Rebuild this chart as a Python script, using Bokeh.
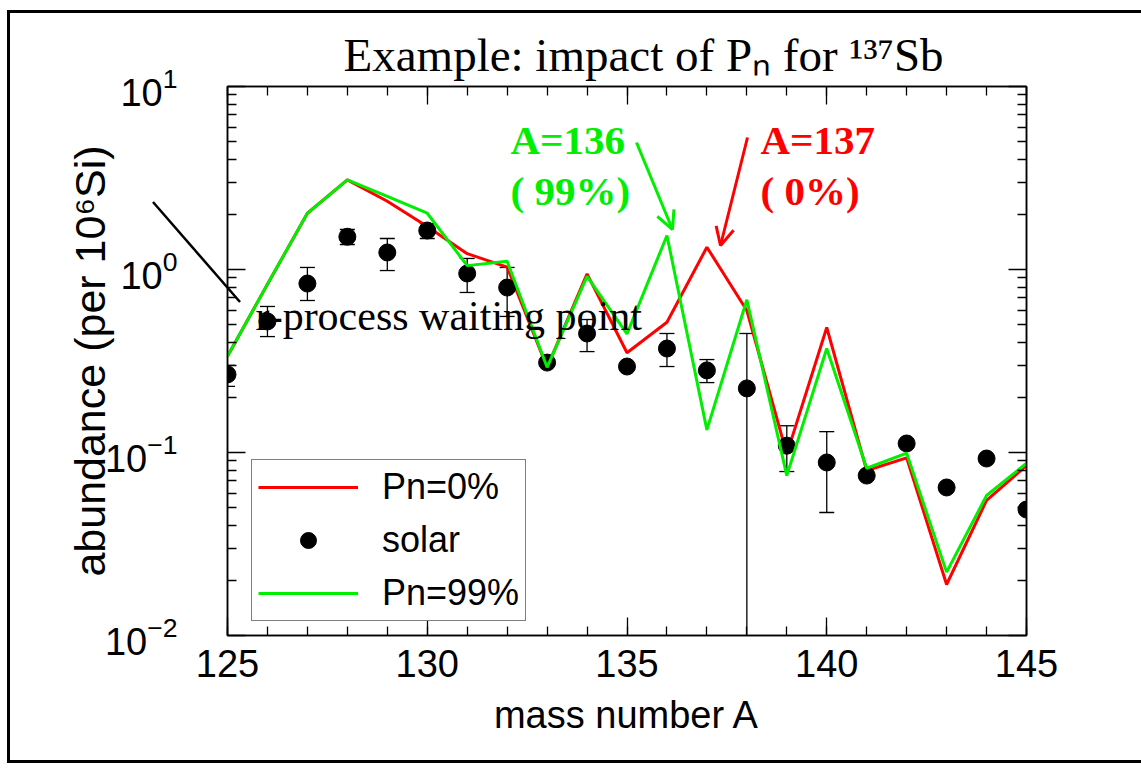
import urllib.parse
from bokeh.plotting import figure
from bokeh.models import (ColumnDataSource, Range1d, LinearAxis, LogAxis, SingleIntervalTicker,
                          FixedTicker, Legend, LegendItem, Label, Arrow, OpenHead, Title)
from bokeh.embed import file_html
from bokeh.resources import INLINE

# ---------------- data ----------------
mass = list(range(125, 146))
pn0 = [0.336, 0.83, 2.03, 3.09, 2.36, 1.72, 1.22, 1.03, 0.292, 0.947, 0.351,
       0.515, 1.324, 0.597, 0.098, 0.482, 0.0797, 0.0935, 0.0190, 0.0547, 0.0849]
pn99 = [0.336, 0.83, 2.03, 3.09, 2.51, 2.03, 1.05, 1.11, 0.292, 0.916, 0.445,
        1.535, 0.133, 0.683, 0.0748, 0.370, 0.082, 0.0991, 0.0222, 0.0582, 0.0874]
solar = [0.267, 0.520, 0.838, 1.51, 1.239, 1.633, 0.951, 0.797, 0.310, 0.447, 0.295,
         0.370, 0.281, 0.224, 0.109, 0.0882, 0.0748, 0.112, 0.0644, 0.0927, 0.0488]
solar_hi = [0.299, 0.628, 1.026, 1.654, 1.477, 1.783, 1.149, 1.026, None, 0.533, None,
            0.447, 0.322, 0.447, 0.140, 0.130, None, None, None, None, None]
solar_lo = [0.230, 0.430, 0.677, 1.37, 0.987, 1.477, 0.749, 0.554, None, 0.356, None,
            0.295, 0.241, 0.001, 0.0787, 0.047, None, None, None, None, None]
x_ticks = [125, 130, 135, 140, 145]
y_ticks = [0.01, 0.1, 1, 10]

RED = "#ff0000"
GREEN = "#00ee00"
SERIF = "Liberation Serif"
SANS = "Liberation Sans"

# frame placement (pixels)
FX0, FX1, FY0, FY1 = 227, 1026, 86, 635
W, H = 1141, 768

def ax(px):
    return 125 + (px - FX0) * 20.0 / (FX1 - FX0)

def ay(py):
    return 10 ** (1 - (py - FY0) * 3.0 / (FY1 - FY0))

# pointer line drawn as page decoration behind the canvas
deco = ('<svg xmlns="http://www.w3.org/2000/svg" width="300" height="400" viewBox="0 0 300 400">'
        '<line x1="153" y1="202" x2="240" y2="302" stroke="black" stroke-width="2.5"/>'
        '</svg>')
deco_url = "url(\"data:image/svg+xml," + urllib.parse.quote(deco) + "\")"
bar = "linear-gradient(#000, #000)"
background = ", ".join([
    "%s no-repeat 0px 0px / 300px 400px" % deco_url,
    "%s no-repeat 7px 10px / %dpx 3px" % (bar, W),      # slide frame top
    "%s no-repeat 7px 10px / 3px 753px" % bar,          # slide frame left
    "%s no-repeat 7px 760px / %dpx 3px" % (bar, W),     # slide frame bottom
    "white",
])

p = figure(width=W, height=H, x_range=Range1d(125, 145), y_range=Range1d(0.01, 10),
           y_axis_type="log", output_backend="svg", toolbar_location=None,
           min_border_left=FX0, min_border_right=W - FX1, min_border_top=FY0,
           min_border_bottom=H - FY1)
p.grid.visible = False
p.outline_line_color = "black"
p.outline_line_width = 1.5
p.background_fill_color = None
p.border_fill_color = None
p.styles = {"background": background}

p.title = Title(text="Example: impact of P\u2099 for \u00b9\u00b3\u2077Sb", align="left",
                offset=343 - FX0, text_font=SERIF, text_font_size="47px",
                text_font_style="normal", text_color="black", standoff=12)

minor_y = [m * 10 ** e for e in (-2, -1, 0) for m in range(2, 10)]

def style_axis(a, labels=True):
    a.axis_line_color = "black"
    a.axis_line_width = 1.5
    a.major_tick_line_color = "black"
    a.minor_tick_line_color = "black"
    a.major_tick_line_width = 1.3
    a.minor_tick_line_width = 1.3
    a.major_tick_in = 18
    a.major_tick_out = 0
    a.minor_tick_in = 9
    a.minor_tick_out = 0
    a.major_label_text_font = SANS
    a.major_label_text_font_size = "38px"
    a.major_label_text_color = "black"
    a.axis_label_text_font = SANS
    a.axis_label_text_font_size = "40px"
    a.axis_label_text_font_style = "normal"
    a.axis_label_text_color = "black"
    if not labels:
        a.major_label_text_font_size = "0px"
        a.major_label_text_alpha = 0
        a.major_label_standoff = 0

xa = p.xaxis[0]
xa.ticker = SingleIntervalTicker(interval=5, num_minor_ticks=5)
style_axis(xa)
xa.major_label_standoff = 14
xa.axis_label = "mass number A"
xa.axis_label_standoff = 14
xa.axis_label_text_font_size = "38px"

ya = p.yaxis[0]
ya.ticker = FixedTicker(ticks=y_ticks, minor_ticks=minor_y)
style_axis(ya)
ya.major_label_standoff = 50
ya.axis_label = "abundance (per 10\u2076Si)"
ya.axis_label_standoff = -12
ya.axis_label_text_font_size = "43px"

top = LinearAxis(ticker=SingleIntervalTicker(interval=5, num_minor_ticks=5))
style_axis(top, labels=False)
p.add_layout(top, "above")
right = LogAxis(ticker=FixedTicker(ticks=y_ticks, minor_ticks=minor_y))
style_axis(right, labels=False)
p.add_layout(right, "right")

# ---------------- marks ----------------
src = ColumnDataSource(dict(mass=mass, pn0=pn0, pn99=pn99, solar=solar))
ex = [m for m, h in zip(mass, solar_hi) if h is not None]
ehi = [h for h in solar_hi if h is not None]
elo = [l for l in solar_lo if l is not None]
esrc = ColumnDataSource(dict(x=ex, hi=ehi, lo=elo))

p.segment(x0="x", y0="lo", x1="x", y1="hi", source=esrc, line_color="black", line_width=1.3)
p.scatter(x="x", y="hi", source=esrc, marker="dash", size=15, line_color="black", line_width=1.3)
p.scatter(x="x", y="lo", source=esrc, marker="dash", size=15, line_color="black", line_width=1.3)

r_red = p.line(x="mass", y="pn0", source=src, line_color=RED, line_width=3)
r_sol = p.scatter(x="mass", y="solar", source=src, marker="circle", size=17,
                  fill_color="black", line_color="black")
r_grn = p.line(x="mass", y="pn99", source=src, line_color=GREEN, line_width=3)

legend = Legend(items=[LegendItem(label="Pn=0%", renderers=[r_red]),
                       LegendItem(label="solar", renderers=[r_sol]),
                       LegendItem(label="Pn=99%", renderers=[r_grn])],
                location=(24, 14), orientation="vertical")
legend.label_text_font = SANS
legend.label_text_font_size = "36px"
legend.label_text_color = "black"
legend.glyph_width = 100
legend.glyph_height = 40
legend.label_standoff = 24
legend.padding = 6
legend.spacing = 11
legend.border_line_color = "black"
legend.border_line_width = 1.5
legend.background_fill_color = "white"
legend.background_fill_alpha = 1.0
p.add_layout(legend)

# ---------------- annotations ----------------
def lab(txt, px, py, size, color="black", font=SERIF, style="normal"):
    p.add_layout(Label(x=ax(px), y=ay(py), text=txt, text_font=font,
                       text_font_size=size, text_color=color, text_font_style=style,
                       text_baseline="alphabetic", text_align="left"))

lab("A=136", 510, 139, "41px", GREEN, style="bold")
lab("( 99%)", 510, 190, "41px", GREEN, style="bold")
lab("A=137", 760, 139, "41px", RED, style="bold")
lab("( 0%)", 760, 190, "41px", RED, style="bold")
lab("r-process waiting point", 255, 315, "42px")

p.add_layout(Arrow(end=OpenHead(size=18, line_color=GREEN, line_width=3),
                   x_start=ax(636), y_start=ay(142), x_end=ax(672), y_end=ay(229),
                   line_color=GREEN, line_width=3))
p.add_layout(Arrow(end=OpenHead(size=18, line_color=RED, line_width=3),
                   x_start=ax(747), y_start=ay(137), x_end=ax(720), y_end=ay(245),
                   line_color=RED, line_width=3))

open("out.html", "w").write(file_html(p, INLINE))
